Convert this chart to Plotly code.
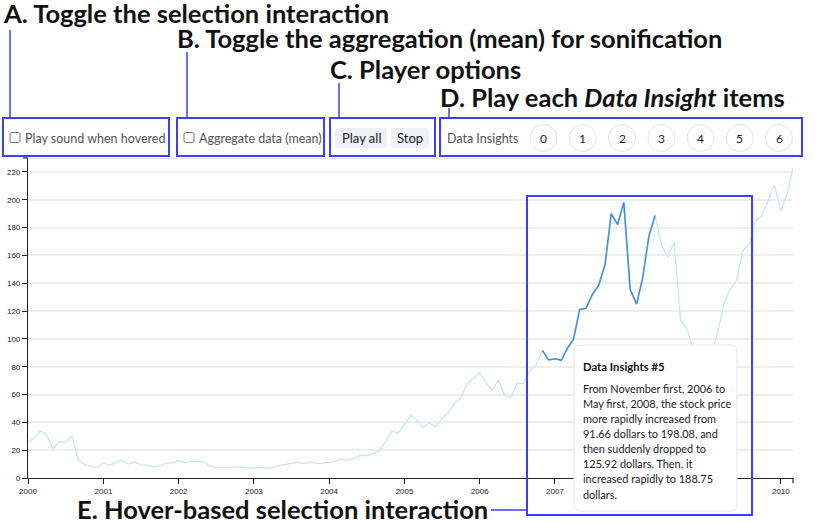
import pandas as pd
import plotly.graph_objs as go

# monthly AAPL closing price, Jan 2000 - Mar 2010
months = pd.date_range("2000-01-01", "2010-03-01", freq="MS")
price = [
    25.94, 28.66, 33.95, 31.01, 21.00, 26.19, 25.41, 30.47, 12.88, 9.78, 8.25, 7.44,
    10.81, 9.12, 11.03, 12.74, 9.98, 11.62, 9.40, 9.27, 7.76, 8.78, 10.65, 10.95,
    12.36, 10.85, 11.84, 12.14, 11.65, 8.86, 7.63, 7.38, 7.25, 8.03, 7.75, 7.16,
    7.18, 7.51, 7.07, 7.11, 8.98, 9.53, 10.54, 11.31, 10.36, 11.44, 10.45, 10.69,
    11.28, 11.96, 13.52, 12.89, 14.03, 16.27, 16.17, 17.25, 19.38, 26.20, 33.53, 32.20,
    38.45, 44.86, 41.67, 36.06, 39.76, 36.81, 42.65, 46.89, 53.61, 57.59, 67.82, 71.89,
    75.51, 68.49, 62.72, 70.39, 59.77, 57.27, 67.96, 67.85, 76.98, 81.08, 91.66, 84.84,
    85.73, 84.61, 92.91, 99.80, 121.19, 122.04, 131.76, 138.48, 153.47, 189.95, 182.22, 198.08,
    135.36, 125.02, 143.50, 173.95, 188.75, 167.44, 158.95, 169.53, 113.66, 107.59, 92.67, 85.35,
    90.13, 89.31, 105.12, 125.83, 135.81, 142.43, 163.39, 168.21, 185.35, 188.50, 199.91, 210.73,
    192.06, 204.62, 223.02,
]
highlight_start = "2006-11-01"
highlight_end = "2008-05-01"

insight_ids = ["0", "1", "2", "3", "4", "5", "6"]
insight_title = "Data Insights #5"
insight_text = [
    "From November first, 2006 to",
    "May first, 2008, the stock price",
    "more rapidly increased from",
    "91.66 dollars to 198.08, and",
    "then suddenly dropped to",
    "125.92 dollars. Then, it",
    "increased rapidly to 188.75",
    "dollars.",
]

FONT = "Lato, 'Source Sans Pro', sans-serif"
BLUE = "#3d3dfa"

WIDTH, HEIGHT = 830, 521
PX0, PX1, PY0, PY1 = 28, 793, 158, 478   # plot area in pixels
L, T = PX0, PY0
R, B = WIDTH - PX1, HEIGHT - PY1
PW, PH = PX1 - PX0, PY1 - PY0


def px(x):
    return (x - PX0) / PW


def py(y):
    return (PY1 - y) / PH


def rrect(x0, y0, x1, y1, r):
    # rounded rectangle path in paper coords from pixel box
    a, b, c, d = px(x0), px(x1), py(y0), py(y1)
    rx, ry = r / PW, r / PH
    return (f"M{a+rx},{c} L{b-rx},{c} Q{b},{c} {b},{c-ry} "
            f"L{b},{d+ry} Q{b},{d} {b-rx},{d} L{a+rx},{d} "
            f"Q{a},{d} {a},{d+ry} L{a},{c-ry} Q{a},{c} {a+rx},{c} Z")


s = pd.Series(price, index=months)
sel = s[highlight_start:highlight_end]

data = [
    go.Scatter(x=months, y=price, mode="lines",
               line=dict(color="#c7e6f4", width=1.3), hoverinfo="skip"),
    go.Scatter(x=sel.index, y=sel.values, mode="lines",
               line=dict(color="#4690d8", width=1.6), hoverinfo="skip"),
]

shapes = []
annotations = []


def box(x0, y0, x1, y1):
    shapes.append(dict(type="rect", xref="paper", yref="paper",
                       x0=px(x0), x1=px(x1), y0=py(y0), y1=py(y1),
                       line=dict(color=BLUE, width=2)))


def vline(x, y0, y1, color=BLUE, w=1.5):
    shapes.append(dict(type="line", xref="paper", yref="paper",
                       x0=px(x), x1=px(x), y0=py(y0), y1=py(y1),
                       line=dict(color=color, width=w)))


def text(x, y, t, size=13, color="#222", anchor="left", bold=False):
    annotations.append(dict(xref="paper", yref="paper", x=px(x), y=py(y),
                            text=f"<b>{t}</b>" if bold else t, showarrow=False,
                            xanchor=anchor, yanchor="middle",
                            font=dict(family=FONT, size=size, color=color)))


# headings and leader lines
HS = 25.5
text(1, 13, "A. Toggle the selection interaction", size=HS, color="#111", bold=True)
text(175, 38, "B. Toggle the aggregation (mean) for sonification", size=HS, color="#111", bold=True)
text(328, 69, "C. Player options", size=HS, color="#111", bold=True)
text(438, 97, "D. Play each <i>Data Insight</i> items", size=HS, color="#111", bold=True)
text(75, 509, "E. Hover-based selection interaction", size=HS, color="#111", bold=True)
vline(10, 30, 118)
vline(187, 52, 118)
vline(339, 83, 118)
vline(449, 108, 118)
shapes.append(dict(type="line", xref="paper", yref="paper",
                   x0=px(491), x1=px(527), y0=py(510), y1=py(510),
                   line=dict(color=BLUE, width=1.5)))

# control boxes
box(3, 118, 169, 156)
box(177, 118, 324, 156)
box(330, 118, 435, 156)
box(440, 118, 802, 156)

# checkboxes
for cx, label in [(10, "Play sound when hovered"), (184, "Aggregate data (mean)")]:
    shapes.append(dict(type="path", xref="paper", yref="paper",
                       path=rrect(cx, 132.5, cx + 10, 142.5, 1.5),
                       line=dict(color="#777", width=1), fillcolor="white"))
    text(cx + 13, 138, label, size=12.5, color="#555")

# buttons
for x0, x1, label in [(335, 387, "Play all"), (391, 429, "Stop")]:
    shapes.append(dict(type="path", xref="paper", yref="paper",
                       path=rrect(x0, 128, x1, 148, 3),
                       line=dict(width=0), fillcolor="#eef0f3"))
    text((x0 + x1) / 2, 138, label, size=13, color="#222", anchor="center")

# data insight buttons
text(445, 138, "Data Insights", size=12.5, color="#555")
for i, lab in enumerate(insight_ids):
    cx = 543.5 + i * 39.25
    shapes.append(dict(type="circle", xref="paper", yref="paper",
                       x0=px(cx - 13.5), x1=px(cx + 13.5),
                       y0=py(124.5), y1=py(151.5),
                       line=dict(color="#e3e3e3", width=1), fillcolor="white"))
    text(cx, 138, lab, size=12, color="#222", anchor="center")

# plot top line and d3-style outer ticks
shapes.append(dict(type="line", xref="paper", yref="paper",
                   x0=px(30), x1=px(793), y0=py(158.5), y1=py(158.5),
                   line=dict(color="#e2e6e8", width=1)))
shapes.append(dict(type="line", xref="paper", yref="paper",
                   x0=px(23), x1=px(28), y0=1, y1=1,
                   line=dict(color="#222", width=1.2)))
shapes.append(dict(type="line", xref="paper", yref="paper",
                   x0=1, x1=1, y0=0, y1=py(483),
                   line=dict(color="#222", width=1.2)))

# selection box E
box(527, 196, 752, 515)

# tooltip
shapes.append(dict(type="path", xref="paper", yref="paper",
                   path=rrect(574, 345, 737, 511, 6),
                   line=dict(color="#e4e6e8", width=1), fillcolor="white"))
text(581, 366, insight_title, size=11.3, color="#111", bold=True)
for k, line in enumerate(insight_text):
    text(581, 388 + k * 15.15, line, size=10.9, color="#222")

layout = go.Layout(
    width=WIDTH, height=HEIGHT,
    margin=dict(l=L, r=R, t=T, b=B, autoexpand=False),
    paper_bgcolor="white", plot_bgcolor="white",
    showlegend=False, hovermode=False,
    font=dict(family=FONT),
    xaxis=dict(range=["2000-01-01", "2010-03-01"], dtick="M12", tickformat="%Y",
               showgrid=False, zeroline=False, showline=True, linecolor="#222",
               linewidth=1.2, ticks="outside", ticklen=5, tickcolor="#222",
               automargin=False,
               tickfont=dict(family="Liberation Sans", size=8, color="#222")),
    yaxis=dict(range=[0, 230], dtick=20, showgrid=True, gridcolor="#eceeef",
               gridwidth=1.5, zeroline=False, showline=True, linecolor="#222",
               linewidth=1.2, ticks="outside", ticklen=5, tickcolor="#222",
               automargin=False,
               tickfont=dict(family="Liberation Sans", size=8, color="#222")),
    shapes=shapes,
    annotations=annotations,
)

fig = go.Figure(data=data, layout=layout)
# drop the default 8px page margin so the figure fills the window
fig.write_html("out.html", config={"displayModeBar": False},
               post_script="document.body.style.margin='0';")
